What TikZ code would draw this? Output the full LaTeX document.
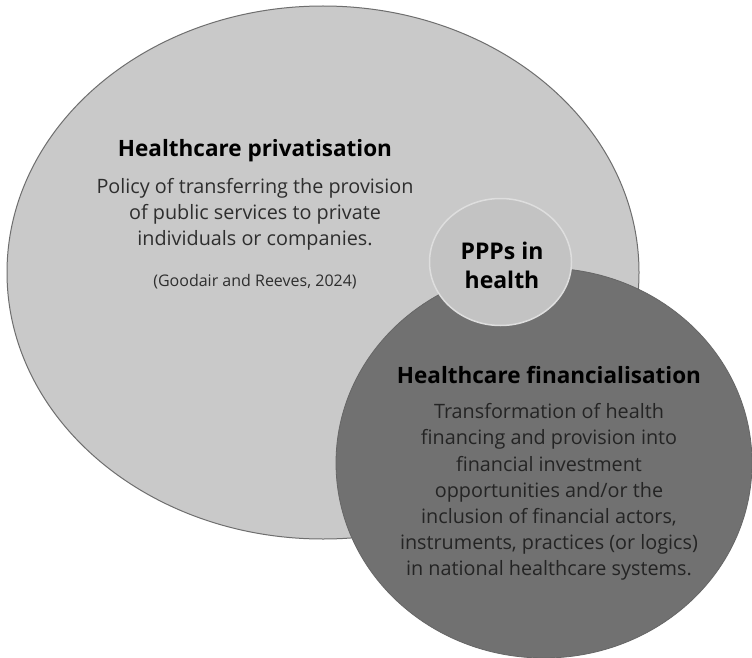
\documentclass[tikz,border=0pt]{standalone}
\usepackage{fontspec}
\setmainfont[Ligatures=NoCommon]{Open Sans}
\usetikzlibrary{shapes.geometric}
\definecolor{lightfill}{HTML}{C9C9C9}
\definecolor{lightedge}{HTML}{6E6E6E}
\definecolor{darkfill}{HTML}{717171}
\definecolor{darkedge}{HTML}{666666}
\definecolor{midfill}{HTML}{C3C3C3}
\definecolor{midedge}{HTML}{DEDEDE}
\definecolor{bodytext}{HTML}{2E2E2E}
\definecolor{darktext}{HTML}{242424}
\begin{document}
\begin{tikzpicture}[x=1pt,y=-1pt,
  blob/.style={ellipse, inner sep=0pt},
  heading/.style={font=\fontsize{22.5}{26}\selectfont\bfseries, text=black, inner sep=0pt},
  body/.style={font=\fontsize{19.8}{26.2}\selectfont, align=center, inner sep=0pt},
  cite/.style={font=\fontsize{16}{18}\selectfont, text=bodytext, inner sep=0pt}]
  \useasboundingbox[fill=white] (0,0) rectangle (752,658);

  % the three overlapping areas
  \node[blob, fill=lightfill, draw=lightedge, line width=1pt,
        minimum width=632pt, minimum height=533pt] (priv) at (323,272.5) {};
  \node[blob, fill=darkfill, draw=darkedge, line width=0.8pt,
        minimum width=416pt, minimum height=390pt] (fin) at (544,463) {};
  \node[blob, fill=midfill, draw=midedge, line width=1.5pt,
        minimum width=142pt, minimum height=127pt] (ppp) at (500.5,262) {};

  % privatisation text
  \node[heading] (privtitle) at (255,151) {Healthcare privatisation};
  \node[body, text=bodytext] (privbody) at (255,214.5)
    {Policy of transferring the provision\\of public services to private\\individuals or companies.};
  \node[cite] (privcite) at (255,282) {(Goodair and Reeves, 2024)};

  % overlap label
  \node[heading, font=\fontsize{23}{29}\selectfont\bfseries, align=center] (ppptext) at (502,265.5)
    {PPPs in\\health};

  % financialisation text
  \node[heading] (fintitle) at (549,375) {Healthcare financialisation};
  \node[body, text=darktext] (finbody) at (549,492)
    {Transformation of health\\financing and provision into\\financial investment\\opportunities and/or the\\inclusion of financial actors,\\instruments, practices (or logics)\\in national healthcare systems.};
\end{tikzpicture}
\end{document}
